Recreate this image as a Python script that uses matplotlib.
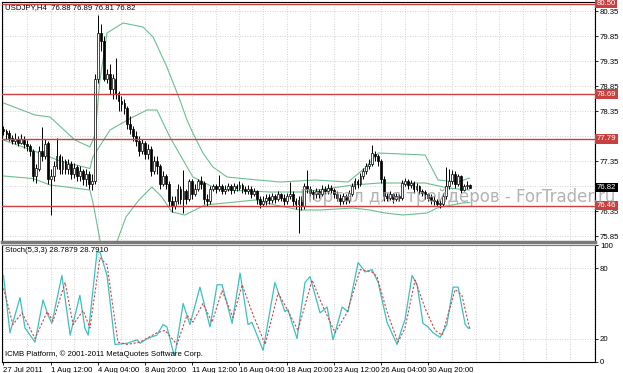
import matplotlib
matplotlib.use("Agg")
import matplotlib.pyplot as plt

# USDJPY H4 bars (bar 0 = 27 Jul 2011)
first_open = 78.00
closes = [
    77.95, 77.90, 77.82, 77.75, 77.80, 77.72, 77.78, 77.70, 77.65, 77.55,
    77.05, 77.20, 77.55, 77.45, 77.70, 77.00, 77.05, 77.25, 77.45, 77.20,
    77.35, 77.20, 77.30, 77.10, 77.22, 77.05, 77.15, 77.00, 77.10, 76.90,
    76.95, 79.00, 79.90, 79.75, 79.00, 79.10, 78.80, 79.00, 78.70, 78.55,
    78.50, 78.40, 78.10, 78.00, 77.85, 77.75, 77.55, 77.70, 77.50, 77.60,
    77.15, 77.35, 77.25, 76.90, 77.05, 76.90, 76.55, 76.45, 76.55, 76.80,
    76.60, 76.75, 76.60, 76.95, 76.70, 76.80, 76.95, 76.90, 76.60, 76.55,
    76.80, 76.85, 76.80, 76.85, 76.75, 76.80, 76.85, 76.78, 76.85, 76.82,
    76.88, 76.80, 76.75, 76.80, 76.70, 76.75, 76.60, 76.50, 76.55, 76.62,
    76.58, 76.65, 76.60, 76.68, 76.62, 76.55, 76.65, 76.70, 76.55, 76.50,
    76.58, 76.45, 76.85, 76.80, 76.72, 76.68, 76.75, 76.70, 76.80, 76.75,
    76.82, 76.78, 76.70, 76.62, 76.55, 76.65, 76.58, 76.70, 76.85, 76.95,
    76.90, 77.05, 77.15, 77.25, 77.30, 77.50, 77.45, 77.35, 77.00, 76.65,
    76.62, 76.68, 76.60, 76.65, 76.62, 76.90, 76.95, 76.88, 76.92, 76.80,
    76.85, 76.75, 76.72, 76.68, 76.62, 76.58, 76.55, 76.50, 76.50, 76.65,
    76.85, 76.95, 77.10, 76.90, 77.05, 76.78, 76.85, 76.88, 76.82,
]
highs = [
    78.05, 78.00, 77.98, 77.88, 77.92, 77.85, 77.90, 77.85, 77.78, 77.70,
    77.60, 77.30, 77.65, 78.03, 77.80, 77.75, 77.20, 77.35, 77.81, 77.50,
    77.45, 77.40, 77.40, 77.35, 77.32, 77.28, 77.25, 77.20, 77.18, 77.15,
    77.10, 79.10, 80.27, 80.10, 79.85, 79.20, 79.30, 79.10, 79.40, 78.75,
    78.65, 78.60, 78.45, 78.25, 78.05, 77.95, 77.85, 77.80, 77.75, 77.70,
    77.65, 77.45, 77.45, 77.30, 77.15, 77.10, 76.95, 76.65, 76.65, 76.90,
    76.85, 77.17, 76.80, 77.00, 77.00, 76.90, 77.00, 77.05, 76.95, 76.70,
    76.85, 76.90, 76.90, 77.07, 76.90, 76.88, 76.92, 76.90, 76.92, 76.90,
    76.95, 76.92, 76.85, 76.88, 76.85, 76.82, 76.78, 76.65, 76.65, 76.70,
    76.68, 76.72, 76.70, 76.75, 76.72, 76.68, 76.72, 76.93, 76.75, 76.62,
    76.65, 76.65, 76.92, 77.17, 76.85, 76.78, 76.82, 76.80, 76.88, 76.85,
    76.90, 76.88, 76.82, 76.75, 76.68, 76.72, 76.70, 76.78, 76.92, 77.02,
    77.00, 77.12, 77.22, 77.32, 77.40, 77.67, 77.55, 77.50, 77.40, 77.05,
    76.72, 76.75, 76.72, 76.72, 76.70, 76.98, 77.02, 77.00, 76.98, 76.95,
    76.92, 76.88, 76.80, 76.78, 76.72, 76.68, 76.65, 76.60, 76.58, 76.72,
    77.23, 77.20, 77.17, 77.15, 77.10, 77.08, 76.90, 76.95, 76.89,
]
lows = [
    77.88, 77.80, 77.75, 77.68, 77.70, 77.65, 77.68, 77.62, 77.55, 77.45,
    76.95, 76.92, 77.15, 77.35, 77.40, 76.90, 76.27, 76.95, 77.20, 77.10,
    77.10, 77.10, 77.10, 77.00, 77.02, 76.95, 76.95, 76.88, 76.85, 76.80,
    76.77, 76.90, 78.90, 79.55, 78.95, 78.90, 78.70, 78.60, 78.60, 78.35,
    78.35, 78.30, 78.00, 77.90, 77.75, 77.65, 77.45, 77.50, 77.40, 77.40,
    77.05, 77.10, 77.10, 76.80, 76.85, 76.80, 76.45, 76.33, 76.40, 76.50,
    76.50, 76.31, 76.50, 76.55, 76.60, 76.65, 76.75, 76.80, 76.50, 76.45,
    76.50, 76.75, 76.72, 76.75, 76.68, 76.70, 76.75, 76.70, 76.72, 76.75,
    76.78, 76.72, 76.68, 76.70, 76.62, 76.65, 76.50, 76.42, 76.45, 76.48,
    76.50, 76.52, 76.52, 76.55, 76.55, 76.48, 76.50, 76.60, 76.45, 76.40,
    75.91, 76.38, 76.40, 76.72, 76.65, 76.60, 76.62, 76.62, 76.65, 76.70,
    76.70, 76.72, 76.62, 76.55, 76.48, 76.50, 76.50, 76.52, 76.65, 76.80,
    76.82, 76.85, 77.00, 77.10, 77.20, 77.25, 77.35, 77.25, 76.92, 76.55,
    76.55, 76.58, 76.52, 76.55, 76.55, 76.58, 76.85, 76.80, 76.82, 76.72,
    76.75, 76.68, 76.65, 76.60, 76.55, 76.50, 76.48, 76.45, 76.41, 76.45,
    76.60, 76.80, 76.90, 76.82, 76.85, 76.72, 76.75, 76.80, 76.81,
]
opens = [first_open] + closes[:-1]

# Bollinger bands, read as (bar, price) points
bb_upper_bar = [0, 10.7, 15.8, 24.2, 29.3, 31, 32.7, 35.1, 40.5, 47.3, 50.7, 55.4, 59.8,
                62.2, 64.2, 67.6, 71, 75.8, 82.6, 93.7, 105.6, 116.8, 122.6, 127, 142.9,
                147.3, 154.1, 158]
bb_upper = [78.51, 78.27, 78.23, 77.77, 77.63, 77.87, 78.97, 79.91, 80.11, 80.03, 79.83, 79.23,
            78.57, 78.17, 77.91, 77.51, 77.23, 77.03, 76.99, 76.93, 76.97, 76.93, 77.21, 77.51,
            77.47, 76.97, 76.93, 77.01]
bb_mid_bar = [0, 10.4, 19.2, 29.3, 30.3, 36.1, 43.9, 48.7, 52, 56.4, 64.2, 71, 75.8, 90.4,
              101.5, 118.5, 127.6, 142.9, 150.7, 158]
bb_mid = [77.77, 77.55, 77.35, 77.20, 77.43, 77.97, 78.23, 78.37, 78.37, 77.83, 77.03, 76.83,
          76.77, 76.73, 76.73, 76.87, 76.91, 76.91, 76.81, 76.77]
bb_lower_bar = [0, 10, 15.8, 29.3, 30.5, 32.7, 34, 37, 41.5, 45.9, 50.3, 53.7, 57.1, 61.5,
                68.3, 78.5, 85.3, 92, 100.5, 107.3, 118.5, 124.2, 129.3, 135.4, 143.6, 147,
                155.4, 158]
bb_lower = [77.05, 77.00, 76.87, 76.77, 76.47, 75.77, 75.50, 75.50, 76.23, 76.57, 76.83, 76.63,
            76.33, 76.27, 76.47, 76.53, 76.57, 76.47, 76.37, 76.37, 76.41, 76.37, 76.31, 76.27,
            76.31, 76.41, 76.51, 76.52]

# Stochastic(5,3,3), read as (bar, value) points
stoch_main_bar = [0, 2.2, 5.6, 7.3, 9, 10.7, 13.4, 15.1, 16.4, 19.8, 22.6, 25.9, 27.6, 28.7,
                  31.7, 32.7, 35.1, 37.8, 41.9, 45.3, 46.3, 48.7, 52, 54.1, 55.4, 57.5, 58.1,
                  60.9, 63.2, 66.6, 70, 72.4, 74.1, 77.5, 80.2, 82.9, 84.2, 88, 92, 95.4, 96.4,
                  99.5, 102.2, 103.9, 107.3, 109.7, 111.7, 114.8, 116.8, 120.2, 122.6, 124.9,
                  127, 130, 133.4, 135.1, 136.1, 138.5, 140.2, 142.2, 143.9, 145.6, 148, 150.3,
                  152.4, 154.1, 156.5, 157.5, 158]
stoch_main = [74, 25, 55, 29, 23, 17, 53, 40, 33, 74, 23, 57, 29, 23, 94, 94, 74, 15, 16, 19,
              16, 20, 23, 32, 30, 9, 6, 50, 32, 64, 30, 66, 66, 33, 76, 32, 34, 10, 68, 43, 45,
              20, 68, 73, 42, 47, 19, 47, 43, 85, 77, 79, 68, 34, 15, 29, 36, 74, 66, 33, 30,
              25, 21, 32, 64, 64, 32, 29, 28.79]
stoch_signal_bar = [0, 3.2, 6.3, 10.7, 14.8, 16.8, 20.9, 23.6, 27, 29.3, 32.7, 35.1, 38.8,
                    41.9, 46.3, 52, 54.8, 58.8, 62.2, 64.2, 67.6, 70.7, 74.1, 77.8, 80.9, 84.2,
                    88.7, 93.1, 96.4, 99.8, 104.6, 108, 112.4, 116.4, 120.9, 124.9, 126.6, 130,
                    133.7, 136.1, 139.5, 142.9, 146.3, 148.7, 153.1, 155.4, 157.5, 158]
stoch_signal = [63, 32, 42, 20, 43, 35, 68, 32, 44, 29, 89, 83, 17, 15, 17, 25, 27, 15, 40,
                34, 50, 34, 61, 38, 66, 43, 15, 59, 44, 27, 70, 49, 25, 42, 79, 77, 73, 43,
                17, 29, 70, 46, 27, 23, 62, 57, 34, 28.79]

time_label_bars = [0, 16, 32, 48, 64, 80, 96, 112, 128, 144]
time_labels = ["27 Jul 2011", "1 Aug 12:00", "4 Aug 04:00", "8 Aug 20:00", "11 Aug 12:00",
               "16 Aug 04:00", "18 Aug 20:00", "23 Aug 12:00", "26 Aug 04:00", "30 Aug 20:00"]
price_ticks = [80.35, 79.85, 79.35, 78.85, 78.35, 77.85, 77.35, 76.85, 76.35, 75.85]
level_prices = [80.50, 78.69, 77.79, 76.46]
stoch_ticks = [100, 80, 20, 0]

W, H = 623, 373
FONT = "Liberation Sans"
RED = "#c94040"
GREEN = "#6cbf92"
GRID = "#c4c4c4"


def px_rect(left, top, right, bottom):
    return [left / W, 1 - bottom / H, (right - left) / W, (bottom - top) / H]


plt.rcParams["font.family"] = [FONT, "DejaVu Sans"]
fig = plt.figure(figsize=(W / 100, H / 100), dpi=100)
ax = fig.add_axes(px_rect(2, 2, 595, 242))
ax2 = fig.add_axes(px_rect(2, 245, 595, 362))

for a in (ax, ax2):
    a.set_xlim(-0.5, 200.5)
    for b in range(0, 201, 8):
        a.axvline(b, color=GRID, lw=0.6, ls=(0, (1, 2)), zorder=0)
    for s in a.spines.values():
        s.set_color("black")
        s.set_linewidth(0.8)
    a.yaxis.tick_right()
    a.tick_params(axis="y", labelsize=5.6, length=2, pad=1.5, width=0.6)

# --- price panel ---
ax.set_ylim(75.73, 80.53)
for p in price_ticks:
    ax.axhline(p, color=GRID, lw=0.6, ls=(0, (1, 2)), zorder=0)
ax.set_yticks(price_ticks)
ax.set_yticklabels([f"{p:.2f}" for p in price_ticks])
ax.set_xticks([])
ax.spines["bottom"].set_color("#7a7a7a")
ax.spines["bottom"].set_linewidth(2.5)

xs = list(range(len(closes)))
ax.vlines(xs, lows, highs, color="black", lw=0.7, zorder=3)
body_bottom = [min(o, c) for o, c in zip(opens, closes)]
body_height = [max(abs(c - o), 0.008) for o, c in zip(opens, closes)]
body_color = ["white" if c >= o else "black" for o, c in zip(opens, closes)]
ax.bar(xs, body_height, bottom=body_bottom, width=0.62, color=body_color,
       edgecolor="black", linewidth=0.5, zorder=4)

for line_x, line_y in ((bb_upper_bar, bb_upper), (bb_mid_bar, bb_mid), (bb_lower_bar, bb_lower)):
    ax.plot(line_x, line_y, color=GREEN, lw=0.8, zorder=2)

for lp in level_prices:
    ax.axhline(lp, color=RED, lw=1.0, zorder=5)
    ax.text(1.003, lp, f"{lp:.2f}", transform=ax.get_yaxis_transform(), ha="left",
            va="center", fontsize=5.6, color="white", clip_on=False, zorder=10,
            bbox=dict(boxstyle="square,pad=0.18", fc=RED, ec="none"))
ax.text(1.003, closes[-1], f"{closes[-1]:.2f}", transform=ax.get_yaxis_transform(),
        ha="left", va="center", fontsize=5.6, color="white", clip_on=False, zorder=10,
        bbox=dict(boxstyle="square,pad=0.18", fc="black", ec="none"))

# --- stochastic panel ---
ax2.set_ylim(0, 100)
for lv in (80, 20):
    ax2.axhline(lv, color=GRID, lw=0.6, ls=(0, (1, 2)), zorder=0)
ax2.set_yticks(stoch_ticks)
ax2.spines["top"].set_color("#7a7a7a")
ax2.set_xticks(time_label_bars)
ax2.set_xticklabels(time_labels, ha="left", fontsize=5.6)
ax2.tick_params(axis="x", length=2, pad=1.5, width=0.6)
ax2.plot(stoch_main_bar, stoch_main, color="#3cc0c0", lw=0.9, zorder=3)
ax2.plot(stoch_signal_bar, stoch_signal, color="#d04848", lw=0.8, ls=(0, (2, 1.6)), zorder=4)

fig.text(5 / W, 1 - 8 / H, "USDJPY,H4  76.88 76.89 76.81 76.82", fontsize=5.6, va="center")
fig.text(5 / W, 1 - 251 / H, "Stoch(5,3,3) 28.7879 28.7910", fontsize=5.6, va="center")
fig.text(5 / W, 1 - 354 / H, "ICMB Platform, © 2001-2011 MetaQuotes Software Corp.",
         fontsize=5.6, va="center")
fig.text(300 / W, 1 - 197 / H, "Портал для трейдеров - ForTrader.ru", fontsize=12,
         color="#9a9a9a", alpha=0.75, va="center", ha="left", family="DejaVu Sans", zorder=20)

fig.savefig("out.png", dpi=100, facecolor="white")
